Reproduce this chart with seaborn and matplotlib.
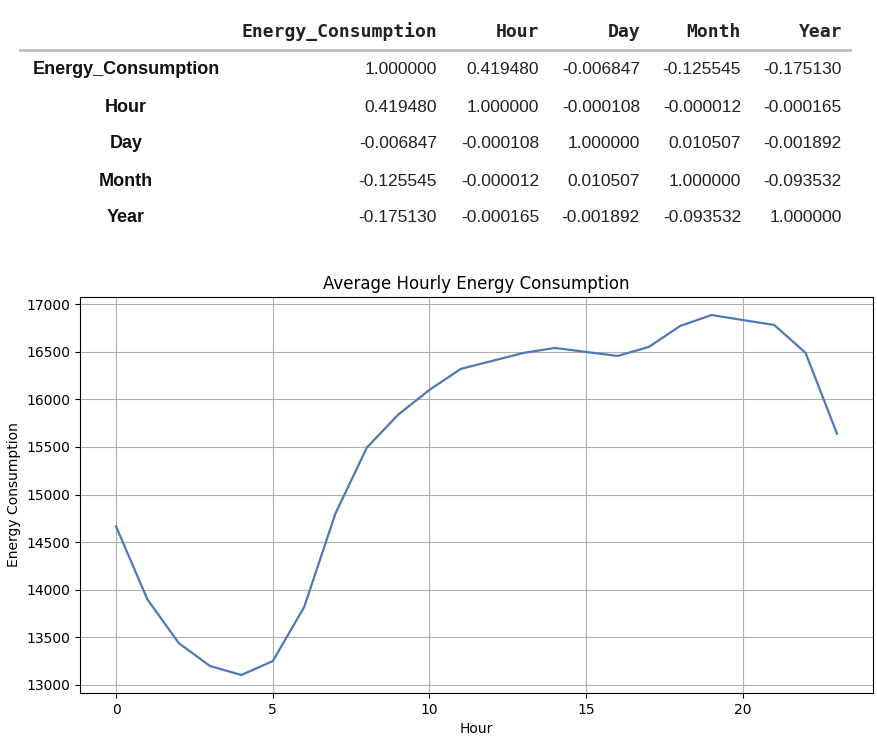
import matplotlib
matplotlib.use("Agg")
import matplotlib.pyplot as plt
import seaborn as sns
import pandas as pd

# correlation table values
cols = ["Energy_Consumption", "Hour", "Day", "Month", "Year"]
corr_values = [
    [1.000000, 0.419480, -0.006847, -0.125545, -0.175130],
    [0.419480, 1.000000, -0.000108, -0.000012, -0.000165],
    [-0.006847, -0.000108, 1.000000, 0.010507, -0.001892],
    [-0.125545, -0.000012, 0.010507, 1.000000, -0.093532],
    [-0.175130, -0.000165, -0.001892, -0.093532, 1.000000],
]

# average consumption per hour
hours = list(range(24))
energy = [14665, 13900, 13440, 13199, 13105, 13251, 13817, 14801,
          15492, 15838, 16099, 16319, 16403, 16487, 16539, 16497,
          16455, 16550, 16770, 16885, 16832, 16780, 16487, 15640]

W, H = 877, 738
fig = plt.figure(figsize=(W / 100, H / 100), dpi=100)

def px(x, y):
    return x / W, 1 - y / H

# ===== table =====
col_right = [437, 539, 640, 741, 842]
row_y = [70, 107, 144, 181, 218]
for c, xr in zip(cols, col_right):
    fig.text(*px(xr, 32), c, ha="right", va="center", fontsize=13,
             fontweight="bold", family="DejaVu Sans Mono", color="#222222")
fig.add_artist(plt.Line2D([20 / W, 850 / W], [1 - 50 / H, 1 - 50 / H],
                          color="#bdbdbd", lw=2, transform=fig.transFigure))
corr = pd.DataFrame(corr_values, index=cols, columns=cols)
for i, (name, ry) in enumerate(zip(corr.index, row_y)):
    fig.text(*px(126, ry), name, ha="center", va="center", fontsize=13,
             fontweight="bold", family="Liberation Sans", color="#111111")
    for j, xr in enumerate(col_right):
        fig.text(*px(xr, ry), f"{corr.iloc[i, j]:.6f}", ha="right", va="center",
                 fontsize=12.5, family="Liberation Sans", color="#222222")

# ===== line chart =====
ax = fig.add_axes([80 / W, 45 / H, 793 / W, 396 / H])
sns.lineplot(x=hours, y=energy, ax=ax, color="#4f78b5", lw=1.6)
ax.grid(True, color="#b0b0b0", lw=0.8)
ax.set_title("Average Hourly Energy Consumption", fontsize=12)
ax.set_xlabel("Hour", fontsize=10)
ax.set_ylabel("Energy Consumption", fontsize=10)
ax.tick_params(labelsize=10)
ax.set_xticks([0, 5, 10, 15, 20])

fig.savefig("out.png", dpi=100)
